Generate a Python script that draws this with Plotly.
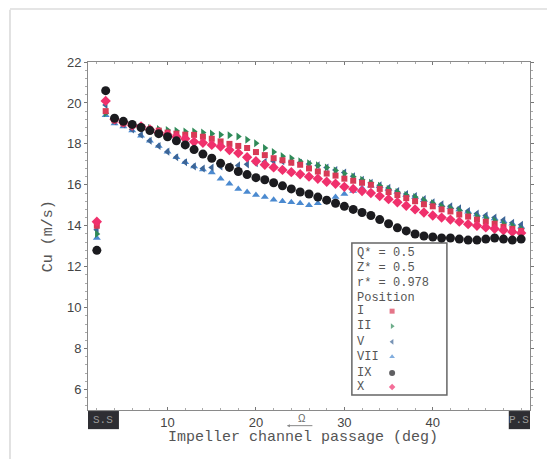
import plotly.graph_objects as go

# ---------------- data ----------------
angle_deg = list(range(2, 51))

cu_I = [14.0, 19.6, 19.15, 19.0, 18.9, 18.8, 18.7, 18.65, 18.55, 18.5, 18.45, 18.44, 18.35, 18.25, 18.12,
        18.0, 17.9, 17.8, 17.6, 17.45, 17.3, 17.2, 17.08, 16.98, 16.8, 16.65, 16.55, 16.45, 16.3, 16.2,
        16.1, 16.0, 15.8, 15.65, 15.5, 15.35, 15.2, 15.05, 14.95, 14.8, 14.7, 14.55, 14.45, 14.3, 14.2,
        14.1, 13.95, 13.85, 13.75]
cu_II = [13.6, 19.5, 19.15, 19.0, 18.9, 18.8, 18.77, 18.72, 18.68, 18.64, 18.6, 18.6, 18.55, 18.5, 18.45,
         18.42, 18.36, 18.2, 18.03, 17.8, 17.6, 17.4, 17.3, 17.15, 17.05, 16.95, 16.85, 16.7, 16.55, 16.4,
         16.25, 16.1, 15.95, 15.8, 15.65, 15.5, 15.4, 15.25, 15.1, 14.95, 14.85, 14.75, 14.6, 14.45, 14.35,
         14.25, 14.1, 14.0, 13.85]
cu_V = [13.8, 19.9, 19.1, 18.95, 18.7, 18.45, 18.15, 17.9, 17.62, 17.35, 17.1, 16.9, 16.8, 16.85, 16.9,
        16.92, 16.95, 17.0, 17.05, 17.12, 17.15, 17.15, 17.12, 17.08, 17.02, 16.95, 16.85, 16.72, 16.6, 16.42,
        16.25, 16.1, 15.98, 15.85, 15.7, 15.55, 15.45, 15.3, 15.15, 15.05, 14.95, 14.85, 14.72, 14.6, 14.5,
        14.4, 14.28, 14.15, 14.05]
cu_VII = [13.4, 19.4, 19.0, 18.85, 18.65, 18.4, 18.15, 17.9, 17.62, 17.35, 17.1, 16.9, 16.75, 16.6, 16.3,
          16.05, 15.8, 15.65, 15.5, 15.4, 15.27, 15.2, 15.15, 15.1, 15.0, 15.1, 15.25, 15.4, 15.55, 15.7,
          15.85, 15.95, 15.93, 15.8, 15.65, 15.5, 15.4, 15.25, 15.1, 15.0, 14.9, 14.8, 14.68, 14.55, 14.45,
          14.35, 14.22, 14.1, 13.95]
cu_IX = [12.8, 20.6, 19.25, 19.1, 18.95, 18.8, 18.65, 18.5, 18.35, 18.15, 17.95, 17.72, 17.5, 17.3, 17.05,
         16.85, 16.65, 16.5, 16.35, 16.25, 16.1, 15.95, 15.8, 15.65, 15.55, 15.4, 15.25, 15.1, 14.95, 14.8,
         14.65, 14.5, 14.3, 14.1, 13.9, 13.75, 13.6, 13.5, 13.45, 13.4, 13.4, 13.35, 13.3, 13.3, 13.35,
         13.4, 13.35, 13.3, 13.35]
cu_X = [14.2, 20.1, 19.2, 19.05, 18.9, 18.85, 18.7, 18.55, 18.45, 18.35, 18.25, 18.1, 18.05, 17.95, 17.87,
        17.7, 17.55, 17.35, 17.15, 16.98, 16.85, 16.73, 16.62, 16.52, 16.4, 16.3, 16.15, 16.05, 15.9, 15.8,
        15.7, 15.6, 15.45, 15.3, 15.15, 14.98, 14.8, 14.65, 14.5, 14.4, 14.3, 14.2, 14.08, 14.0, 13.92,
        13.85, 13.78, 13.7, 13.65]

position_names = ["I", "II", "V", "VII", "IX", "X"]
y_ticks = [6, 8, 10, 12, 14, 16, 18, 20, 22]
x_ticks = [10, 20, 30, 40]
info_lines = ["Q* = 0.5", "Z* = 0.5", "r* = 0.978", "Position"]

# ---------------- styles ----------------
styles = {
    "I":   dict(symbol="square", color="#d83a56", size=6),
    "II":  dict(symbol="triangle-right", color="#2f8a58", size=7),
    "V":   dict(symbol="triangle-left", color="#3d6596", size=7),
    "VII": dict(symbol="triangle-up", color="#4b8ad0", size=7),
    "IX":  dict(symbol="circle", color="#1b1b1f", size=9),
    "X":   dict(symbol="diamond", color="#f0306c", size=8),
}
series = {"I": cu_I, "II": cu_II, "V": cu_V, "VII": cu_VII, "IX": cu_IX, "X": cu_X}

MONO = "Liberation Mono, Courier New, monospace"
SANS = "Liberation Sans, Arial, sans-serif"

fig = go.Figure()
for name in ["VII", "V", "II", "I", "X", "IX"]:
    st = styles[name]
    fig.add_trace(go.Scatter(
        x=angle_deg, y=series[name], mode="markers", name=name, showlegend=False,
        marker=dict(symbol=st["symbol"], color=st["color"], size=st["size"], line=dict(width=0)),
    ))

# Legend keys on an overlay axis in [0,1] (plot-area fraction)
key_x = 0.688
key_y = [0.284, 0.241, 0.196, 0.153, 0.106, 0.066]
fig.add_trace(go.Scatter(
    x=[key_x] * len(position_names), y=key_y, xaxis="x2", yaxis="y2", mode="markers",
    showlegend=False, hoverinfo="skip",
    marker=dict(symbol=[styles[n]["symbol"] for n in position_names],
                color=[styles[n]["color"] for n in position_names],
                size=[5, 5, 5, 5, 6, 5], line=dict(width=0)),
))

annotations = []
info_y = [0.451, 0.408, 0.366, 0.322]
for t, yy in zip(info_lines, info_y):
    annotations.append(dict(xref="paper", yref="paper", x=0.604, y=yy, text=t, showarrow=False,
                            xanchor="left", yanchor="middle", font=dict(family=MONO, size=12, color="#555")))
for t, yy in zip(position_names, key_y):
    annotations.append(dict(xref="paper", yref="paper", x=0.604, y=yy, text=t, showarrow=False,
                            xanchor="left", yanchor="middle", font=dict(family=MONO, size=12, color="#555")))
# axis titles
annotations.append(dict(xref="paper", yref="paper", x=0.487, y=-0.08, text="Impeller channel passage (deg)",
                        showarrow=False, xanchor="center", yanchor="middle",
                        font=dict(family=MONO, size=15, color="#555")))
annotations.append(dict(xref="paper", yref="paper", x=-0.09, y=0.5, text="Cu (m/s)", textangle=-90,
                        showarrow=False, xanchor="center", yanchor="middle",
                        font=dict(family=MONO, size=15, color="#555")))
# S.S / P.S labels
annotations.append(dict(xref="x", yref="paper", x=2.75, y=-0.03, text="S.S", showarrow=False,
                        yanchor="middle", font=dict(family=MONO, size=11, color="#9a9a9a")))
annotations.append(dict(xref="x", yref="paper", x=49.8, y=-0.03, text="P.S", showarrow=False,
                        yanchor="middle", font=dict(family=MONO, size=11, color="#9a9a9a")))
# rotation arrow
annotations.append(dict(xref="x", yref="paper", x=25.2, y=-0.025, text="Ω", showarrow=False,
                        yanchor="middle", font=dict(family=SANS, size=10, color="#666")))
annotations.append(dict(xref="x", yref="paper", x=23.5, y=-0.045, ax=27, ay=0, axref="pixel", ayref="pixel",
                        text="", showarrow=True, arrowhead=2, arrowsize=0.6, arrowwidth=1, arrowcolor="#888"))

shapes = [
    dict(type="rect", xref="paper", yref="paper", x0=0.597, x1=0.812, y0=0.043, y1=0.48,
         line=dict(color="#666", width=1.5), fillcolor="rgba(0,0,0,0)", layer="below"),
    dict(type="rect", xref="x", yref="paper", x0=1.0, x1=4.5, y0=-0.055, y1=-0.003,
         line=dict(width=0), fillcolor="#2e2e33"),
    dict(type="rect", xref="x", yref="paper", x0=48.6, x1=51.0, y0=-0.055, y1=-0.003,
         line=dict(width=0), fillcolor="#2e2e33"),
    dict(type="line", xref="paper", yref="paper", x0=-0.1765, x1=-0.1765, y0=1.15, y1=-0.15,
         line=dict(color="#d8d8d8", width=1.5)),
    dict(type="line", xref="paper", yref="paper", x0=-0.1765, x1=1.06, y0=1.152, y1=1.152,
         line=dict(color="#dcdcdc", width=1.5)),
]

# page has an 8px body margin: figure is 547x451 placed at (8,8)
fig.update_layout(
    width=547, height=451,
    margin=dict(l=80, r=25, t=54, b=49),
    paper_bgcolor="white", plot_bgcolor="white",
    showlegend=False,
    xaxis=dict(range=[1, 51], tickvals=x_ticks, ticktext=[str(v) for v in x_ticks],
               showgrid=False, zeroline=False, showline=True, linecolor="#8a8a8a", linewidth=1,
               mirror="ticks", ticks="inside", ticklen=3, tickcolor="#777",
               minor=dict(ticks="inside", ticklen=2, dtick=2, tickcolor="#aaa"),
               tickfont=dict(family=SANS, size=13, color="#444")),
    yaxis=dict(range=[5, 22], tickvals=y_ticks, showgrid=False, zeroline=False,
               showline=True, linecolor="#8a8a8a", linewidth=1, mirror="ticks",
               ticks="outside", ticklen=3, tickcolor="#777",
               minor=dict(ticks="outside", ticklen=2, dtick=0.4, tickcolor="#aaa"),
               tickfont=dict(family=SANS, size=13, color="#444")),
    xaxis2=dict(range=[0, 1], overlaying="x", visible=False, domain=[0, 1]),
    yaxis2=dict(range=[0, 1], overlaying="y", visible=False),
    annotations=annotations, shapes=shapes,
)

fig.write_html("out.html")
